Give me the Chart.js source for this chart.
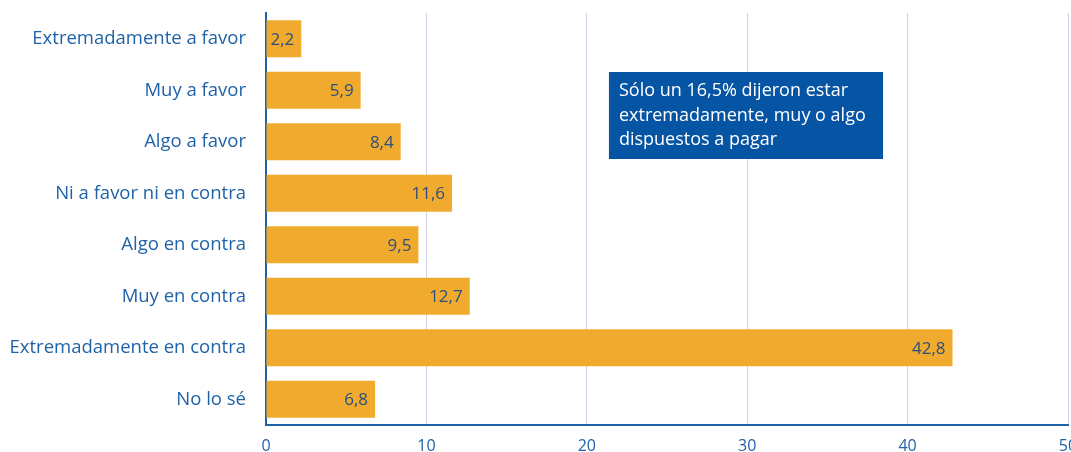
<!DOCTYPE html>
<html>
<head>
<meta charset="utf-8">
<script src="https://cdn.jsdelivr.net/npm/chart.js@4"></script>
<style>
  html, body { margin: 0; padding: 0; background: #fff; }
  #wrap { width: 1071px; height: 452px; }
</style>
</head>
<body>
<div id="wrap"><canvas id="barChart" width="1071" height="452"></canvas></div>
<script>
const categories = [
    'Extremadamente a favor',
    'Muy a favor',
    'Algo a favor',
    'Ni a favor ni en contra',
    'Algo en contra',
    'Muy en contra',
    'Extremadamente en contra',
    'No lo sé'
];
const values = [2.2, 5.9, 8.4, 11.6, 9.5, 12.7, 42.8, 6.8];
const xTicks = [0, 10, 20, 30, 40, 50];
const noteLines = ['Sólo un 16,5% dijeron estar', 'extremadamente, muy o algo', 'dispuestos a pagar'];

const FONT = '"Open Sans", sans-serif';
const BLUE = '#1f62a8';

// value labels inside the end of each bar
const barLabels = {
    id: 'barLabels',
    afterDatasetsDraw(chart) {
        const ctx = chart.ctx;
        const meta = chart.getDatasetMeta(0);
        ctx.save();
        ctx.font = '17px ' + FONT;
        ctx.fillStyle = '#2b4f7e';
        ctx.textAlign = 'right';
        ctx.textBaseline = 'middle';
        meta.data.forEach((bar, i) => {
            ctx.fillText(values[i].toFixed(1).replace('.', ','), bar.x - 7, bar.y + 1);
        });
        ctx.restore();
    }
};

// blue note box
const noteBox = {
    id: 'noteBox',
    afterDraw(chart) {
        const ctx = chart.ctx;
        const x = chart.scales.x;
        const left = x.getPixelForValue(21.38);
        const right = x.getPixelForValue(38.47);
        const top = 72, bottom = 159;
        ctx.save();
        ctx.fillStyle = '#0654a4';
        ctx.fillRect(left, top, right - left, bottom - top);
        ctx.font = '18px ' + FONT;
        ctx.fillStyle = '#ffffff';
        ctx.textAlign = 'left';
        ctx.textBaseline = 'middle';
        noteLines.forEach((line, i) => {
            ctx.fillText(line, left + 10, 91 + i * 24.5);
        });
        ctx.restore();
    }
};

new Chart(document.getElementById('barChart'), {
    type: 'bar',
    data: {
        labels: categories,
        datasets: [{
            data: values,
            backgroundColor: '#f0ab2e',
            borderWidth: 0,
            barPercentage: 0.72,
            categoryPercentage: 1
        }]
    },
    options: {
        indexAxis: 'y',
        responsive: false,
        animation: false,
        layout: { padding: { top: 13, right: 3, left: 0, bottom: 0 } },
        plugins: {
            legend: { display: false },
            tooltip: { enabled: false }
        },
        scales: {
            x: {
                min: 0,
                max: 50,
                afterBuildTicks(axis) {
                    axis.ticks = xTicks.map(v => ({ value: v }));
                },
                afterFit(axis) {
                    axis.paddingLeft = 0;
                    axis.paddingRight = 0;
                    axis.height = 27;
                },
                grid: { color: '#cdd1ea', lineWidth: 1, drawTicks: false },
                border: { color: BLUE, width: 2 },
                ticks: {
                    color: BLUE,
                    font: { family: FONT, size: 16 },
                    padding: 12,
                    maxRotation: 0
                }
            },
            y: {
                afterFit(axis) {
                    axis.paddingTop = 0;
                    axis.paddingBottom = 0;
                    axis.width = 266;
                },
                grid: { display: false, drawTicks: false },
                border: { color: BLUE, width: 2 },
                ticks: {
                    color: BLUE,
                    font: { family: FONT, size: 18.5 },
                    padding: 20
                }
            }
        }
    },
    plugins: [barLabels, noteBox]
});
</script>
</body>
</html>
